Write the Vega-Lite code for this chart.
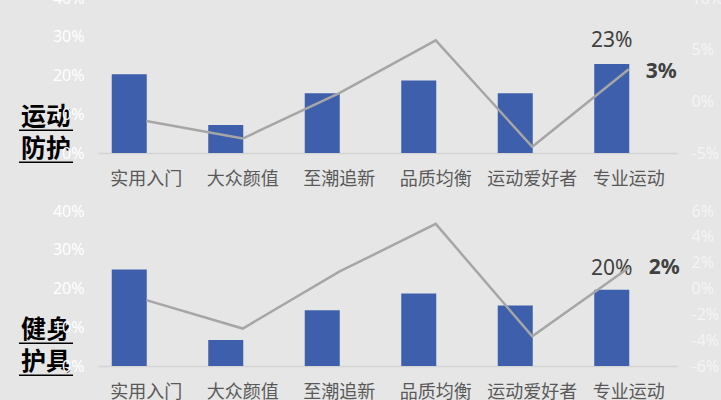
{
  "$schema": "https://vega.github.io/schema/vega-lite/v6.json",
  "background": "#e6e6e6",
  "padding": {"left": 18, "top": -10, "right": 0, "bottom": 0},
  "config": {
    "view": {"stroke": null},
    "axis": {"grid": false, "title": null, "labelOverlap": false}
  },
  "datasets": {
    "segments": [
      {"group": "运动防护", "segment": "实用入门", "share": 0.203, "growth": -0.019},
      {"group": "运动防护", "segment": "大众颜值", "share": 0.072, "growth": -0.036},
      {"group": "运动防护", "segment": "至潮追新", "share": 0.154, "growth": 0.008},
      {"group": "运动防护", "segment": "品质均衡", "share": 0.187, "growth": 0.059},
      {"group": "运动防护", "segment": "运动爱好者", "share": 0.154, "growth": -0.044},
      {"group": "运动防护", "segment": "专业运动", "share": 0.23, "growth": 0.031},
      {"group": "健身护具", "segment": "实用入门", "share": 0.249, "growth": -0.009},
      {"group": "健身护具", "segment": "大众颜值", "share": 0.067, "growth": -0.031},
      {"group": "健身护具", "segment": "至潮追新", "share": 0.144, "growth": 0.013},
      {"group": "健身护具", "segment": "品质均衡", "share": 0.187, "growth": 0.05},
      {"group": "健身护具", "segment": "运动爱好者", "share": 0.156, "growth": -0.037},
      {"group": "健身护具", "segment": "专业运动", "share": 0.197, "growth": 0.016}
    ],
    "titles": [
      {"group": "运动防护", "text": "运动", "line": 0},
      {"group": "运动防护", "text": "防护", "line": 1},
      {"group": "健身护具", "text": "健身", "line": 0},
      {"group": "健身护具", "text": "护具", "line": 1}
    ]
  },
  "spacing": 15,
  "vconcat": [
    {
      "bounds": "flush",
      "spacing": 25,
      "hconcat": [
        {
          "width": 54,
          "height": 155,
          "data": {"name": "titles"},
          "transform": [{"filter": "datum.group == '运动防护'"}],
          "layer": [
            {
              "mark": {"type": "text", "font": "Noto Sans CJK SC", "fontSize": 25, "fontWeight": "bold", "color": "#000000"},
              "encoding": {
                "y": {"field": "line", "type": "quantitative", "scale": {"domain": [-3.72, 1.12], "reverse": true}, "axis": null},
                "text": {"field": "text", "type": "nominal"}
              }
            },
            {
              "mark": {"type": "rule", "yOffset": 13, "strokeWidth": 1.5, "color": "#000000"},
              "encoding": {
                "y": {"field": "line", "type": "quantitative", "scale": {"domain": [-3.72, 1.12], "reverse": true}, "axis": null}
              }
            }
          ]
        },
        {
          "width": 579,
          "height": 155,
          "data": {"name": "segments"},
          "transform": [{"filter": "datum.group == '运动防护'"}],
          "encoding": {
            "x": {
              "field": "segment", "type": "nominal", "sort": null,
              "scale": {"paddingInner": 0, "paddingOuter": 0},
              "axis": {"labelAngle": 0, "labelColor": "#595959", "labelFont": "Noto Sans CJK SC", "labelFontSize": 18, "labelPadding": 17, "ticks": false, "domainColor": "#d4d4d4", "domainWidth": 1.5}
            }
          },
          "layer": [
            {
              "encoding": {
                "y": {
                  "field": "share", "type": "quantitative",
                  "scale": {"domain": [0, 0.4]},
                  "axis": {"orient": "left", "values": [0, 0.1, 0.2, 0.3, 0.4], "format": ".0%", "labelOverlap": false, "labelColor": "#ffffff", "labelFont": "Noto Sans", "labelFontSize": 16, "labelPadding": 14, "domain": false, "ticks": false}
                }
              },
              "layer": [
                {
                  "mark": {"type": "bar", "width": 35, "xOffset": -17, "color": "#3e5fac"}
                },
                {
                  "transform": [{"filter": "datum.segment == '专业运动'"}],
                  "mark": {"type": "text", "xOffset": -17, "dy": -23, "font": "Noto Sans", "fontSize": 21, "color": "#404040"},
                  "encoding": {
                    "text": {"field": "share", "type": "quantitative", "format": ".0%"}
                  }
                }
              ]
            },
            {
              "encoding": {
                "y": {
                  "field": "growth", "type": "quantitative",
                  "scale": {"domain": [-0.05, 0.1]},
                  "axis": {"orient": "right", "values": [-0.05, 0, 0.05, 0.1], "format": ".0%", "labelExpr": "replace(datum.label, '−', '-')", "labelOverlap": false, "labelColor": "#f4f4f4", "labelFont": "Noto Sans", "labelFontSize": 16, "labelPadding": 14, "domain": false, "ticks": false}
                }
              },
              "layer": [
                {
                  "mark": {"type": "line", "color": "#a6a6a6", "strokeWidth": 2.5}
                },
                {
                  "transform": [{"filter": "datum.segment == '专业运动'"}],
                  "mark": {"type": "text", "align": "left", "dx": 17, "dy": 3, "font": "Noto Sans", "fontSize": 21, "fontWeight": "bold", "color": "#404040"},
                  "encoding": {
                    "text": {"field": "growth", "type": "quantitative", "format": ".0%"}
                  }
                }
              ]
            }
          ],
          "resolve": {"scale": {"y": "independent"}}
        }
      ]
    },
    {
      "bounds": "flush",
      "spacing": 25,
      "hconcat": [
        {
          "width": 54,
          "height": 155,
          "data": {"name": "titles"},
          "transform": [{"filter": "datum.group == '健身护具'"}],
          "layer": [
            {
              "mark": {"type": "text", "font": "Noto Sans CJK SC", "fontSize": 25, "fontWeight": "bold", "color": "#000000"},
              "encoding": {
                "y": {"field": "line", "type": "quantitative", "scale": {"domain": [-3.72, 1.12], "reverse": true}, "axis": null},
                "text": {"field": "text", "type": "nominal"}
              }
            },
            {
              "mark": {"type": "rule", "yOffset": 13, "strokeWidth": 1.5, "color": "#000000"},
              "encoding": {
                "y": {"field": "line", "type": "quantitative", "scale": {"domain": [-3.72, 1.12], "reverse": true}, "axis": null}
              }
            }
          ]
        },
        {
          "width": 579,
          "height": 155,
          "data": {"name": "segments"},
          "transform": [{"filter": "datum.group == '健身护具'"}],
          "encoding": {
            "x": {
              "field": "segment", "type": "nominal", "sort": null,
              "scale": {"paddingInner": 0, "paddingOuter": 0},
              "axis": {"labelAngle": 0, "labelColor": "#595959", "labelFont": "Noto Sans CJK SC", "labelFontSize": 18, "labelPadding": 17, "ticks": false, "domainColor": "#d4d4d4", "domainWidth": 1.5}
            }
          },
          "layer": [
            {
              "encoding": {
                "y": {
                  "field": "share", "type": "quantitative",
                  "scale": {"domain": [0, 0.4]},
                  "axis": {"orient": "left", "values": [0, 0.1, 0.2, 0.3, 0.4], "format": ".0%", "labelOverlap": false, "labelColor": "#ffffff", "labelFont": "Noto Sans", "labelFontSize": 16, "labelPadding": 14, "domain": false, "ticks": false}
                }
              },
              "layer": [
                {
                  "mark": {"type": "bar", "width": 35, "xOffset": -17, "color": "#3e5fac"}
                },
                {
                  "transform": [{"filter": "datum.segment == '专业运动'"}],
                  "mark": {"type": "text", "xOffset": -17, "dy": -21, "font": "Noto Sans", "fontSize": 21, "color": "#404040"},
                  "encoding": {
                    "text": {"field": "share", "type": "quantitative", "format": ".0%"}
                  }
                }
              ]
            },
            {
              "encoding": {
                "y": {
                  "field": "growth", "type": "quantitative",
                  "scale": {"domain": [-0.06, 0.06]},
                  "axis": {"orient": "right", "values": [-0.06, -0.04, -0.02, 0, 0.02, 0.04, 0.06], "format": ".0%", "labelExpr": "replace(datum.label, '−', '-')", "labelOverlap": false, "labelColor": "#f4f4f4", "labelFont": "Noto Sans", "labelFontSize": 16, "labelPadding": 14, "domain": false, "ticks": false}
                }
              },
              "layer": [
                {
                  "mark": {"type": "line", "color": "#a6a6a6", "strokeWidth": 2.5}
                },
                {
                  "transform": [{"filter": "datum.segment == '专业运动'"}],
                  "mark": {"type": "text", "align": "left", "dx": 20, "font": "Noto Sans", "fontSize": 21, "fontWeight": "bold", "color": "#404040"},
                  "encoding": {
                    "text": {"field": "growth", "type": "quantitative", "format": ".0%"}
                  }
                }
              ]
            }
          ],
          "resolve": {"scale": {"y": "independent"}}
        }
      ]
    }
  ]
}
